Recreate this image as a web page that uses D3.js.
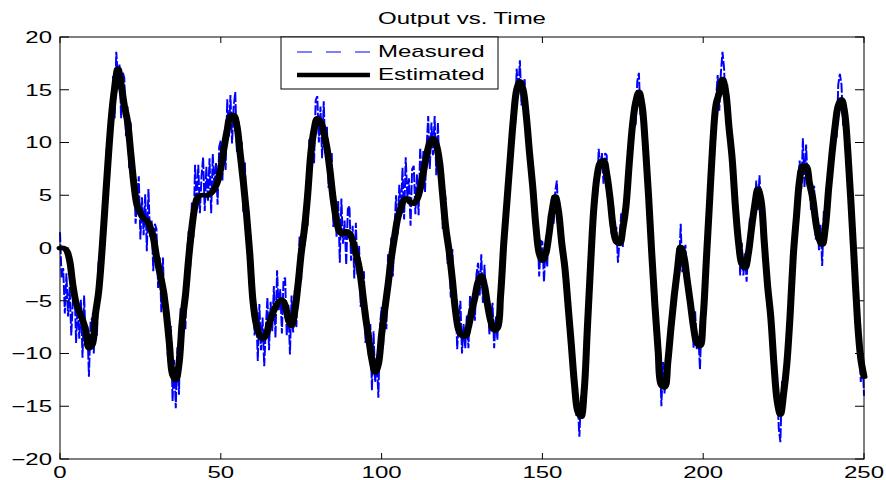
<!DOCTYPE html>
<html><head><meta charset="utf-8">
<script src="https://cdn.jsdelivr.net/npm/d3@7"></script>
<style>html,body{margin:0;padding:0;background:#fff;}svg{display:block;}</style>
</head><body>
<svg id="chart" width="886" height="480"></svg>
<script>
// ---- data ----
const chartTitle = "Output vs. Time";
const seriesNames = ["Measured", "Estimated"];
const xTicks = [0, 50, 100, 150, 200, 250];
const yTicks = [-20, -15, -10, -5, 0, 5, 10, 15, 20];
const estimatedStep = 1;   // time between estimated samples
const measuredStep = 0.5;  // time between measured samples
const estimated = [
  0,0,-0.2,-1.2,-3.5,-5.2,-6.0,-6.8,-7.8,-9.5,
  -9.2,-6.3,-4.2,-0.5,4.0,8.5,12.5,15.2,17.0,15.5,
  13.5,12.0,9.0,6.0,4.0,3.3,2.8,2.6,2.0,1.0,
  -0.8,-2.3,-3.8,-6.0,-9.0,-12.0,-12.5,-11.0,-7.0,-4.5,
  -1.0,1.9,4.0,4.9,5.0,5.0,5.0,5.2,5.6,6.3,
  7.6,9.5,11.2,12.5,12.6,11.6,9.0,6.3,3.2,-0.5,
  -5.0,-7.2,-8.2,-8.6,-8.3,-7.2,-6.3,-5.6,-5.1,-4.9,
  -5.4,-6.8,-7.4,-6.0,-3.5,-0.5,1.8,5.0,9.0,11.2,
  12.3,12.0,11.0,9.5,7.2,4.5,2.6,1.5,1.3,1.6,
  1.4,0.7,-0.5,-1.8,-4.0,-6.5,-8.6,-10.6,-11.8,-11.0,
  -8.2,-5.8,-3.5,-1.0,1.0,2.8,3.8,4.6,4.7,4.3,
  4.2,4.6,5.6,7.2,8.8,10.0,10.4,9.8,8.2,5.0,
  1.8,-0.3,-3.0,-6.0,-7.8,-8.3,-8.4,-7.5,-6.0,-4.7,
  -3.2,-2.6,-3.6,-5.5,-7.0,-7.8,-7.6,-4.5,0.5,4.5,
  8.5,12.3,15.0,15.8,15.0,12.5,9.0,5.8,2.0,-0.5,
  -1.2,-0.6,1.2,3.5,4.9,3.5,0.5,-1.9,-5.5,-9.2,
  -13.0,-15.5,-16.0,-13.5,-7.5,-1.5,3.8,6.8,8.1,8.3,
  7.0,4.8,2.0,0.6,0.4,1.8,4.0,8.0,11.6,13.8,
  14.8,13.5,9.8,5.0,-0.5,-5.5,-9.8,-13.0,-13.2,-10.8,
  -7.5,-4.5,-2.0,0.1,-0.8,-3.0,-5.2,-7.5,-9.0,-9.3,
  -6.5,-1.0,4.5,10.0,13.6,14.7,16.0,14.8,11.5,8.5,
  4.0,0.5,-1.5,-1.9,-0.6,1.8,4.0,5.6,4.5,0.5,
  -3.5,-6.5,-11.0,-14.5,-15.8,-13.8,-11.0,-6.5,-0.8,3.0,
  6.5,7.8,7.8,6.2,4.8,2.5,0.9,0.3,2.0,5.6,
  8.8,11.5,13.5,14.1,12.8,9.0,4.0,-1.5,-7.0,-10.5,
  -12.2
];
const measured = [
  1.5,-2.8,-1.9,-6.2,-2.4,-6.5,-3.7,-8.3,-5.0,-3.4,
  -9.0,-5.1,-8.6,-4.9,-10.4,-4.5,-8.9,-7.4,-12.2,-7.0,
  -6.6,-10.0,-4.9,-8.3,-1.3,-3.7,1.5,-1.0,4.8,9.4,
  6.0,12.2,10.9,16.3,12.3,18.6,16.1,17.4,12.3,16.7,
  16.1,10.6,13.4,7.5,11.9,6.2,8.0,2.3,4.8,6.8,
  0.8,4.8,1.2,5.1,-0.3,5.6,1.1,2.6,-2.2,2.3,
  1.8,-3.8,-0.9,-6.1,-0.9,-6.2,-4.0,-10.2,-8.2,-7.4,
  -14.5,-10.6,-15.2,-9.4,-13.9,-5.7,-7.9,-4.7,-7.7,-0.6,
  1.6,-1.8,4.3,1.0,7.9,4.2,7.9,3.3,6.8,8.6,
  3.5,7.7,4.4,8.5,3.3,8.9,5.7,8.1,4.1,9.6,
  10.2,6.4,10.9,7.4,14.1,10.6,14.5,9.9,13.4,14.8,
  9.1,12.0,7.4,10.1,3.4,8.1,2.3,2.5,-3.7,-0.6,
  -2.4,-8.3,-5.8,-10.7,-5.3,-9.7,-6.6,-11.2,-7.5,-4.7,
  -9.7,-5.1,-7.9,-3.6,-8.5,-2.1,-6.0,-3.9,-8.1,-3.0,
  -2.8,-8.3,-5.4,-10.1,-4.5,-8.0,-4.0,-7.5,-2.7,1.1,
  -3.0,2.4,0.2,5.8,2.1,10.3,8.1,11.2,8.0,14.0,
  14.4,10.0,13.4,8.5,13.9,9.0,11.5,5.7,8.0,9.0,
  2.0,5.3,1.0,4.5,-1.4,4.7,0.4,2.6,-1.6,3.7,
  4.0,-1.2,2.1,-2.9,2.4,-2.5,0.2,-5.6,-3.2,-2.2,
  -9.0,-5.9,-10.2,-7.2,-13.5,-7.9,-12.7,-10.3,-14.2,-7.4,
  -5.6,-9.2,-4.4,-7.7,-0.6,-3.6,1.0,-2.7,1.8,5.0,
  1.3,6.0,3.2,7.6,2.7,8.6,4.8,6.6,2.1,7.5,
  7.8,3.2,7.0,3.1,9.5,6.1,9.2,5.3,9.6,12.5,
  7.5,11.9,8.8,12.5,6.9,11.9,7.3,7.7,1.8,5.6,
  4.4,-1.5,1.1,-4.7,-0.1,-5.8,-4.0,-9.6,-7.0,-5.0,
  -10.0,-7.2,-9.5,-6.4,-9.5,-4.5,-6.6,-4.6,-6.9,-2.5,
  -1.4,-4.5,-0.6,-5.2,-1.6,-5.5,-4.1,-8.2,-6.5,-5.2,
  -9.5,-6.5,-8.7,-4.5,-6.5,0.3,-0.1,3.3,2.3,8.0,
  10.3,8.8,13.3,11.6,17.0,14.5,17.8,13.5,15.5,16.0,
  10.8,12.0,7.9,9.0,3.8,6.2,1.4,1.6,-2.7,0.7,
  0.6,-3.2,0.4,-1.8,3.2,1.5,4.9,2.3,5.4,6.4,
  1.8,3.2,-0.6,0.9,-3.9,-1.4,-6.1,-6.6,-11.4,-9.6,
  -11.2,-15.9,-14.5,-17.9,-14.0,-15.7,-12.1,-12.4,-7.0,-2.3,
  -3.2,2.4,2.7,6.9,4.8,9.4,7.5,9.0,6.1,9.0,
  8.8,4.3,5.8,1.3,4.0,0.4,2.0,-1.4,0.9,3.3,
  0.1,4.1,2.9,7.6,6.0,12.1,11.0,13.5,11.6,15.8,
  16.6,12.6,14.5,9.6,11.8,6.5,6.4,0.4,0.0,-0.8,
  -7.2,-6.5,-10.9,-9.8,-15.0,-10.8,-13.8,-11.2,-13.0,-7.7,
  -5.7,-7.6,-3.5,-5.4,0.0,-1.9,2.3,-2.3,-0.3,0.3,
  -4.7,-2.9,-6.3,-4.8,-9.5,-6.0,-9.6,-8.4,-11.5,-6.4,
  -4.7,-5.4,0.0,-0.4,6.5,6.4,11.4,9.9,14.1,16.4,
  13.0,16.6,18.6,17.0,12.8,15.5,10.9,10.8,6.3,7.8,
  5.8,0.7,1.5,-2.6,0.5,-2.6,-0.5,-3.2,-0.1,2.8,
  0.1,4.1,2.9,6.4,3.6,6.9,3.9,3.3,-1.7,0.0,
  -1.7,-6.6,-5.5,-10.9,-9.0,-13.7,-13.1,-17.1,-18.4,-12.6,
  -15.5,-11.2,-12.1,-7.2,-8.5,-1.4,-1.4,1.9,0.8,6.3,
  8.3,5.6,10.4,5.7,9.8,6.1,7.6,3.6,5.3,5.9,
  0.8,2.9,-0.2,2.2,-1.7,3.5,1.4,4.6,3.4,8.7,
  10.6,8.6,12.5,10.4,15.5,16.5,15.5,11.6,13.3,13.1,
  7.3,7.7,2.9,2.9,-3.5,-2.0,-7.6,-8.0,-12.7,-9.9,
  -14.0
];

// ---- layout ----
const L = 60, R = 864, T = 37, B = 459;
const SX = 1.5;          // the reference is stretched horizontally
const FS = 16;
const FONT = "'Liberation Sans', Arial, Helvetica, sans-serif";

const svg = d3.select("#chart");
const x = d3.scaleLinear().domain([0, 250]).range([L, R]);
const y = d3.scaleLinear().domain([-20, 20]).range([B, T]);
// scale in unstretched space for lines drawn inside a horizontally scaled group
const xs = d3.scaleLinear().domain([0, 250]).range([L / SX, R / SX]);

function stext(parent, px, py, str, anchor) {
  return parent.append("text")
    .attr("transform", `translate(${px},${py}) scale(${SX},1)`)
    .attr("text-anchor", anchor)
    .attr("font-family", FONT)
    .attr("font-size", FS)
    .attr("fill", "#000")
    .text(str);
}
const fmt = v => (v < 0 ? "\u2212" + Math.abs(v) : String(v));

// ---- lines ----
const lineG = svg.append("g").attr("transform", `scale(${SX},1)`);
const measLine = d3.line().x((d, i) => xs(i * measuredStep)).y(d => y(d));
const estLine = d3.line().x((d, i) => xs(i * estimatedStep)).y(d => y(d)).curve(d3.curveCatmullRom.alpha(0.5));

lineG.append("path").datum(measured)
  .attr("d", measLine).attr("fill", "none")
  .attr("stroke", "#0000ff").attr("stroke-width", 1.3)
  .attr("stroke-dasharray", "10,2");
lineG.append("path").datum(estimated)
  .attr("d", estLine).attr("fill", "none")
  .attr("stroke", "#000").attr("stroke-width", 4.7)
  .attr("stroke-linejoin", "round").attr("stroke-linecap", "round");

// ---- axes box & ticks ----
const ax = svg.append("g");
ax.append("rect").attr("x", L).attr("y", T).attr("width", R - L).attr("height", B - T)
  .attr("fill", "none").attr("stroke", "#000").attr("stroke-width", 1);
xTicks.forEach(v => {
  ax.append("line").attr("x1", x(v)).attr("x2", x(v)).attr("y1", B).attr("y2", B - 6).attr("stroke", "#000");
  ax.append("line").attr("x1", x(v)).attr("x2", x(v)).attr("y1", T).attr("y2", T + 6).attr("stroke", "#000");
  stext(ax, x(v), 477.5, fmt(v), "middle");
});
yTicks.forEach(v => {
  ax.append("line").attr("x1", L).attr("x2", L + 9).attr("y1", y(v)).attr("y2", y(v)).attr("stroke", "#000");
  ax.append("line").attr("x1", R).attr("x2", R - 9).attr("y1", y(v)).attr("y2", y(v)).attr("stroke", "#000");
  stext(ax, 52, y(v) + 5.8, fmt(v), "end");
});

// ---- title ----
stext(svg, (L + R) / 2, 24, chartTitle, "middle");

// ---- legend ----
const lg = svg.append("g");
lg.append("rect").attr("x", 281).attr("y", 37).attr("width", 217).attr("height", 52)
  .attr("fill", "#fff").attr("stroke", "#000").attr("stroke-width", 1);
lg.append("line").attr("x1", 297).attr("x2", 370).attr("y1", 52).attr("y2", 52)
  .attr("stroke", "#0000ff").attr("stroke-width", 1).attr("stroke-dasharray", "15,14");
lg.append("line").attr("x1", 297).attr("x2", 370).attr("y1", 75).attr("y2", 75)
  .attr("stroke", "#000").attr("stroke-width", 4.7);
stext(lg, 378, 57.3, seriesNames[0], "start");
stext(lg, 378, 80, seriesNames[1], "start");
</script>
</body></html>
